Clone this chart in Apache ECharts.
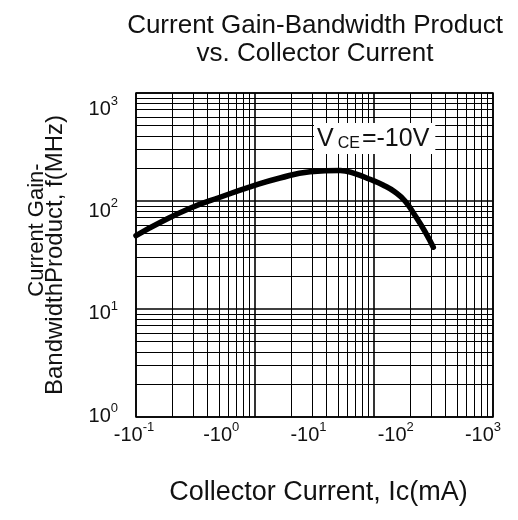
<!DOCTYPE html>
<html><head><meta charset="utf-8">
<script src="https://cdn.jsdelivr.net/npm/echarts@6/dist/echarts.min.js"></script>
<style>html,body{margin:0;padding:0;background:#fff}#c{width:518px;height:520px}</style>
</head><body><div id="c"></div>
<script>
// Collector current |Ic| (mA) and transition frequency fT (MHz)
const currentMA = [0.1054, 0.199, 0.439, 0.968, 2.14, 4.71, 10.4, 23.0, 34.1, 50.7, 71.4, 98.0, 127.6, 166.2, 216.4, 269.4];
const fTMHz     = [47.9, 63.2, 85.6, 108.4, 135.1, 163.3, 186.4, 192.0, 179.4, 158.8, 140.7, 121.2, 100.0, 73.4, 52.0, 37.3];
// tick labels (powers of ten)
const xTickExponents = [-1, 0, 1, 2, 3];
const yTickExponents = [0, 1, 2, 3];
// printed grid: 3 decades each way, minor lines at 2..9
const gridDecades = [1, 10, 100];
const minorMultipliers = [2, 3, 4, 5, 6, 7, 8, 9];

const FONT = 'Liberation Sans';
const INK = '#111';

const minorX = [], minorY = [];
gridDecades.forEach(d => minorMultipliers.forEach(m => { minorX.push(d * m); minorY.push(d * m); }));

const supRich = {
  b: { fontFamily: FONT, fontSize: 20, color: INK, lineHeight: 24, verticalAlign: 'bottom' },
  s: { fontFamily: FONT, fontSize: 13, color: INK, lineHeight: 14, verticalAlign: 'top' }
};

const chart = echarts.init(document.getElementById('c'), null, { renderer: 'canvas' });
chart.setOption({
  backgroundColor: '#fff',
  animation: false,
  title: {
    text: 'Current Gain-Bandwidth Product\nvs. Collector Current',
    left: 310, top: 7, textAlign: 'center',
    textStyle: { fontFamily: FONT, fontSize: 26, fontWeight: 'normal', color: INK, lineHeight: 28 }
  },
  grid: [
    { left: 136, top: 93, width: 357, height: 324, show: true, borderColor: '#000', borderWidth: 1.5, backgroundColor: 'transparent' },
    { left: 134, top: 93, width: 349, height: 324 },
    { left: 136, top: 107, width: 357, height: 307 }
  ],
  xAxis: [
    { gridIndex: 0, type: 'log', logBase: 10, min: 1, max: 1000, splitNumber: 3,
      axisLine: { show: false }, axisTick: { show: false }, axisLabel: { show: false },
      splitLine: { show: true, lineStyle: { color: '#000', width: 1.6 } },
      name: 'Collector Current, Ic(mA)', nameLocation: 'middle', nameGap: 62,
      nameTextStyle: { fontFamily: FONT, fontSize: 27, color: INK, padding: [0, 0, 0, 8] } },
    { gridIndex: 1, type: 'log', logBase: 10, min: 0.1, max: 1000, splitNumber: xTickExponents.length - 1,
      axisLine: { show: false }, axisTick: { show: false }, splitLine: { show: false },
      axisLabel: { margin: 4, formatter: v => '{b|-10}{s|' + Math.round(Math.log10(v)) + '}', rich: supRich } },
    { gridIndex: 2, type: 'value', show: false }
  ],
  yAxis: [
    { gridIndex: 0, type: 'log', logBase: 10, min: 1, max: 1000, splitNumber: 3,
      axisLine: { show: false }, axisTick: { show: false }, axisLabel: { show: false },
      splitLine: { show: true, lineStyle: { color: '#000', width: 1.6 } },
      name: '{a|Current Gain-}\n{b|BandwidthProduct, f(MHz)}', nameLocation: 'middle', nameGap: 71, nameRotate: 90,
      nameTextStyle: { rich: {
        a: { fontFamily: FONT, fontSize: 22, color: INK, lineHeight: 19, padding: [0, 0, 0, 50] },
        b: { fontFamily: FONT, fontSize: 24, color: INK, lineHeight: 19 } } } },
    { gridIndex: 1, type: 'log', logBase: 10, min: 1, max: 1000, show: false },
    { gridIndex: 2, type: 'log', logBase: 10, min: 1, max: 1000, splitNumber: yTickExponents.length - 1,
      axisLine: { show: false }, axisTick: { show: false }, splitLine: { show: false },
      axisLabel: { margin: 18, formatter: v => '{b|10}{s|' + Math.round(Math.log10(v)) + '}', rich: supRich } }
  ],
  graphic: [{
    type: 'text', left: 314, top: 123, z: 50,
    style: {
      text: '{v|V}{c|CE}{v|=-10V}',
      backgroundColor: '#fff', padding: [2, 6, 2, 3],
      rich: {
        v: { fontFamily: FONT, fontSize: 25, fill: INK, lineHeight: 27, verticalAlign: 'bottom' },
        c: { fontFamily: FONT, fontSize: 16, fill: INK, lineHeight: 19, verticalAlign: 'bottom', padding: [0, 2, 0, 4] }
      }
    }
  }],
  series: [
    { type: 'line', xAxisIndex: 0, yAxisIndex: 0, data: [], silent: true, z: 1,
      markLine: { silent: true, symbol: ['none', 'none'], label: { show: false }, animation: false,
        lineStyle: { color: '#000', width: 1, type: 'solid' },
        data: minorX.map(v => ({ xAxis: v })).concat(minorY.map(v => ({ yAxis: v }))) } },
    { type: 'line', xAxisIndex: 1, yAxisIndex: 1, z: 100,
      data: currentMA.map((x, i) => [x, fTMHz[i]]),
      smooth: 0.5, showSymbol: false, symbol: 'none',
      lineStyle: { color: '#000', width: 5.5, cap: 'round' } }
  ]
});
</script></body></html>
